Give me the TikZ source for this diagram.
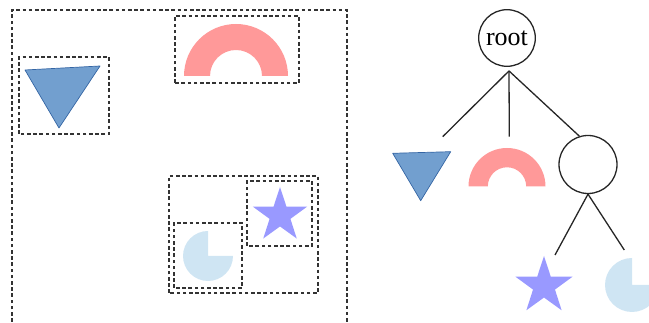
\documentclass[tikz,border=0pt]{standalone}
\usepackage{fontspec}
\setmainfont{Liberation Serif}
\usetikzlibrary{shapes.geometric, positioning}
\definecolor{triblue}{HTML}{729FCF}
\definecolor{triedge}{HTML}{3465A4}
\definecolor{archpink}{HTML}{FF9999}
\definecolor{starblue}{HTML}{9999FF}
\definecolor{pieblue}{HTML}{CFE5F3}

\begin{document}
\begin{tikzpicture}[x=1pt, y=1pt,
  dashbox/.style={draw=black!80, line width=1.4pt, dash pattern=on 3.6pt off 2.6pt},
  trishape/.style={fill=triblue, draw=triedge, line width=0.7pt, line join=round},
  archshape/.style={fill=archpink},
  starnode/.style={star, star points=5, star point ratio=2.6, fill=starblue, inner sep=0pt},
  pieshape/.style={fill=pieblue},
  treenode/.style={circle, draw=black!85, line width=1.3pt, inner sep=0pt},
  treeedge/.style={draw=black!85, line width=1.3pt}
]
\useasboundingbox (0,0) rectangle (649,323);

\draw[dashbox] (12,-5) -- (12,313) -- (347,313) -- (347,-5);
\draw[dashbox] (19,189) rectangle (109,266);
\draw[dashbox] (175,240) rectangle (299,307);
\draw[dashbox] (169,30) rectangle (318,147);
\draw[dashbox] (247,77) rectangle (312,142);
\draw[dashbox] (174,35) rectangle (242,100);

\filldraw[trishape] (25,253) -- (100,257) -- (59,195) -- cycle;
\fill[archshape] (184,247) arc (180:0:52) -- (262,247) arc (0:180:26) -- cycle;
\node[starnode, minimum size=57pt] (boxstar) at (280,107.5) {};
\fill[pieshape] (208,67) -- ++(90:25) arc (90:360:25) -- cycle;

\node[treenode, minimum size=56.6pt, font=\fontsize{26}{28}\selectfont] (root) at (507,285) {root};
\node[treenode, minimum size=58pt] (sub) at (588,158.5) {};
\coordinate (rootfoot) at ([shift={(2pt,-4pt)}]root.south);
\coordinate (triend) at (442.7,186.3);
\coordinate (archend) at (509.3,186.3);
\coordinate (starend) at (555,68);
\coordinate (pieend) at (624.3,73);

\draw[treeedge] (rootfoot) -- (triend);
\draw[treeedge] (rootfoot) -- (archend);
\draw[treeedge] (rootfoot) -- (sub.107);
\draw[treeedge] (sub.south) -- (starend);
\draw[treeedge] (sub.south) -- (pieend);

\filldraw[trishape] (392.7,169.7) -- (450.7,171.3) -- (420.7,122.3) -- cycle;
\fill[archshape] (468.5,136.5) arc (180:0:38.5) -- (526.2,136.5) arc (0:180:19.2) -- cycle;
\node[starnode, minimum size=60pt] (treestar) at (544,37) {};
\fill[pieshape] (632,38) -- ++(90:27) arc (90:360:27) -- cycle;

\end{tikzpicture}
\end{document}
